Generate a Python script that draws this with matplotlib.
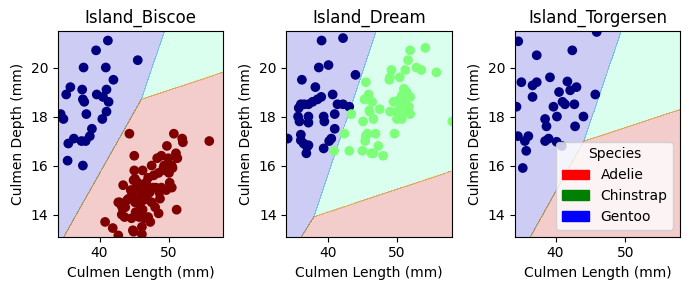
import matplotlib
matplotlib.use('Agg')
import matplotlib.pyplot as plt
import matplotlib.patches as mpatches
import numpy as np

# culmen length / depth, per island and species
biscoe_adelie_len = [41.2, 39.5, 45.5, 37.7, 40.9, 42.0, 35.8, 35.2, 37.5, 41.0, 39.6, 40.5,
                     37.6, 37.8, 41.3, 34.4, 34.8, 38.1, 41.0, 40.4, 38.9, 38.6, 36.3, 35.5,
                     38.0, 37.4, 35.4, 37.6]
biscoe_adelie_dep = [21.1, 20.7, 20.3, 20.0, 20.0, 19.5, 19.2, 18.9, 19.1, 19.1, 18.9, 18.8,
                     18.7, 18.6, 18.6, 18.1, 17.9, 18.1, 18.2, 17.9, 17.5, 17.2, 17.1, 16.9,
                     17.0, 17.0, 16.2, 16.0]
biscoe_gentoo_len = [44.3, 50.7, 51.9, 52.0, 55.8, 49.7, 45.0, 48.3, 48.9, 49.9, 51.0, 51.2,
                     49.2, 50.4, 45.0, 46.2, 47.0, 44.9, 43.4, 50.1, 50.4, 48.9, 47.7, 45.3,
                     46.3, 44.6, 45.6, 46.8, 48.7, 42.9, 43.7, 45.8, 48.0, 51.1, 48.5, 43.2,
                     44.6, 46.5, 47.3, 46.1, 44.9, 40.8, 41.9, 42.7, 43.3, 44.2, 44.7, 45.1,
                     42.7, 43.1, 44.8, 46.1, 45.5, 46.0, 46.5, 47.2, 47.5, 46.2, 45.2, 44.0,
                     45.3, 47.8, 48.5, 49.5, 46.7, 44.5, 50.0, 49.3, 47.5, 48.6, 49.6, 45.7,
                     46.4, 47.0, 43.6, 45.1, 50.5, 48.1]
biscoe_gentoo_dep = [17.3, 17.3, 17.1, 16.95, 17.0, 16.8, 16.4, 16.3, 16.4, 16.3, 16.5, 16.3,
                     15.9, 16.0, 15.8, 15.8, 15.5, 15.4, 15.2, 15.3, 15.1, 15.1, 15.1, 15.1,
                     15.0, 14.7, 14.65, 14.65, 14.65, 14.5, 14.3, 14.4, 14.3, 14.2, 14.05, 14.0,
                     13.85, 13.85, 13.7, 13.5, 13.3, 13.7, 13.45, 13.15, 14.27, 14.65, 14.9, 15.46,
                     14.5, 14.4, 13.36, 13.2, 15.3, 14.9, 15.2, 14.9, 14.5, 14.2, 14.1, 14.6,
                     14.6, 15.6, 15.7, 15.8, 15.3, 15.0, 15.7, 16.0, 16.0, 14.9, 15.0, 13.9,
                     14.6, 13.9, 13.9, 14.5, 15.9, 15.1]

dream_adelie_len = [39.1, 42.2, 38.7, 40.1, 44.0, 36.25, 38.2, 40.7, 39.05, 38.5, 37.8, 37.2,
                    36.6, 36.1, 35.8, 41.4, 42.2, 43.1, 35.7, 35.9, 37.2, 37.2, 39.4, 39.5,
                    41.0, 34.2, 36.1, 36.1, 36.5, 37.0, 37.2, 36.9, 39.4, 40.5, 41.0, 40.2]
dream_adelie_dep = [21.1, 21.2, 20.0, 20.1, 19.7, 19.5, 19.2, 18.9, 18.8, 18.7, 18.6, 18.5,
                    18.5, 18.5, 18.35, 18.5, 18.5, 18.4, 18.0, 17.8, 18.0, 17.75, 18.0, 17.8,
                    18.1, 17.1, 17.26, 17.03, 16.9, 16.76, 16.83, 16.5, 16.7, 17.1, 17.5, 17.0]
dream_chinstrap_len = [54.1, 51.9, 51.6, 52.8, 53.5, 51.2, 55.7, 49.2, 48.9, 49.0, 50.4, 45.5,
                       45.9, 45.3, 46.4, 47.5, 46.05, 46.6, 45.1, 43.4, 51.0, 51.4, 51.9, 50.7,
                       50.2, 49.5, 51.2, 50.5, 51.7, 49.0, 50.0, 51.0, 51.9, 50.0, 50.7, 58.0,
                       42.4, 45.7, 46.9, 45.4, 49.65, 43.1, 45.0, 46.6, 47.3, 48.0, 40.9, 46.0,
                       45.5, 46.3]
dream_chinstrap_dep = [20.8, 20.7, 20.3, 20.0, 19.9, 19.9, 19.8, 19.9, 19.5, 19.6, 19.6, 19.4,
                       18.9, 18.7, 18.6, 18.3, 18.2, 17.9, 17.8, 18.1, 19.13, 19.0, 18.8, 18.86,
                       18.66, 18.6, 18.66, 18.46, 18.4, 18.2, 18.2, 18.2, 18.1, 17.9, 17.9, 17.8,
                       17.3, 17.3, 17.3, 17.0, 17.3, 16.6, 16.6, 16.5, 16.8, 16.4, 16.6, 18.25,
                       17.2, 16.5]

torgersen_adelie_len = [34.65, 45.9, 42.4, 37.3, 35.1, 36.7, 37.3, 39.2, 41.7, 42.1, 43.0, 40.5,
                        36.7, 45.7, 41.0, 41.35, 42.7, 34.4, 39.7, 44.0, 40.2, 38.5, 38.7, 42.8,
                        34.6, 36.1, 35.6, 38.5, 39.0, 40.15, 40.9, 35.8, 35.3]
torgersen_adelie_dep = [21.07, 21.45, 20.7, 20.5, 19.4, 19.27, 19.4, 19.6, 19.43, 19.07, 19.2, 19.0,
                        18.8, 18.9, 18.6, 18.5, 18.5, 18.4, 18.4, 18.0, 18.0, 17.9, 17.6, 17.6,
                        17.2, 17.2, 17.0, 17.0, 17.1, 16.97, 16.8, 16.6, 15.9]

# species codes: 0 Adelie, 1 Chinstrap, 2 Gentoo
islands = ['Island_Biscoe', 'Island_Dream', 'Island_Torgersen']
points = [
    [(biscoe_adelie_len, biscoe_adelie_dep, 0), (biscoe_gentoo_len, biscoe_gentoo_dep, 2)],
    [(dream_adelie_len, dream_adelie_dep, 0), (dream_chinstrap_len, dream_chinstrap_dep, 1)],
    [(torgersen_adelie_len, torgersen_adelie_dep, 0)],
]

# linear decision scores per island (rows: Adelie, Chinstrap, Gentoo)
coef = [
    [[0.0, 0.0], [2.77, -3.32], [3.025, -6.022]],
    [[0.0, 0.0], [2.268, -2.697], [2.544, -5.642]],
    [[0.0, 0.0], [2.24, -2.675], [2.438, -4.787]],
]
intercept = [
    [0.0, -65.37, -26.58],
    [0.0, -48.65, -18.17],
    [0.0, -53.21, -26.05],
]

xlims = [(34.0, 57.8), (34.0, 57.9), (34.15, 57.85)]
ylims = (13.1, 21.5)
h = 0.02

fig, axes = plt.subplots(1, 3, figsize=(6.89, 2.9))
for i, ax in enumerate(axes):
    x_min, x_max = xlims[i]
    y_min, y_max = ylims
    xx, yy = np.meshgrid(np.arange(x_min, x_max + h, h), np.arange(y_min, y_max + h, h))
    w = np.array(coef[i])
    b = np.array(intercept[i])
    scores = xx[..., None] * w[:, 0] + yy[..., None] * w[:, 1] + b
    Z = np.argmax(scores, axis=-1)
    ax.contourf(xx, yy, Z, alpha=0.2, cmap='jet')

    for lens, deps, sp in points[i]:
        ax.scatter(lens, deps, c=[sp] * len(lens), cmap='jet', vmin=0, vmax=2)

    ax.set_xlim(x_min, x_max)
    ax.set_ylim(y_min, y_max)
    ax.set_title(islands[i])
    ax.set_xlabel('Culmen Length (mm)')
    ax.set_ylabel('Culmen Depth (mm)')

handles = [mpatches.Patch(color='red', label='Adelie'),
           mpatches.Patch(color='green', label='Chinstrap'),
           mpatches.Patch(color='blue', label='Gentoo')]
axes[2].legend(handles=handles, title='Species', loc='lower right')

plt.subplots_adjust(left=0.084, right=0.987, bottom=0.184, top=0.894, wspace=0.382)
plt.savefig('out.png', dpi=100)
